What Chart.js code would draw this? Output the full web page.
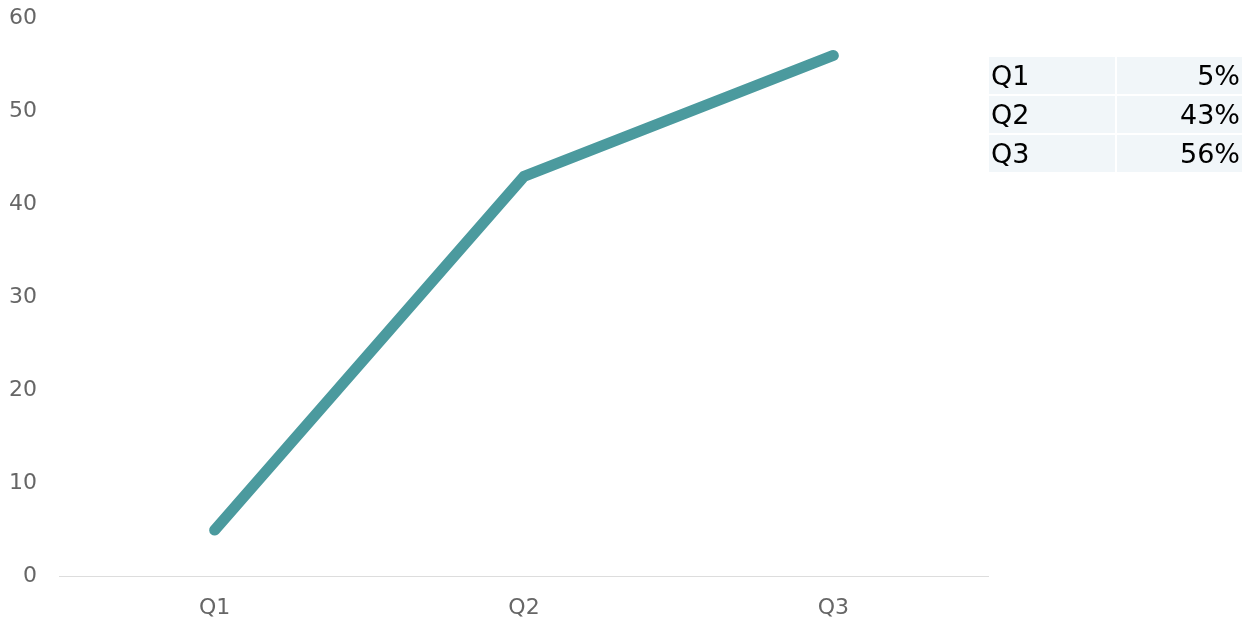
<!DOCTYPE html>
<html>
<head>
<meta charset="utf-8">
<script src="https://cdn.jsdelivr.net/npm/chart.js@4"></script>
<style>
  html, body { margin: 0; padding: 0; background: #fff; }
  #wrap { position: absolute; left: 0; top: 0; width: 990px; height: 627px; }
  #tbl {
    position: absolute; left: 987px; top: 55px; width: 257px;
    border-collapse: collapse; font-family: "DejaVu Sans", Verdana, sans-serif;
    font-size: 27px; color: #000; table-layout: fixed;
  }
  #tbl td { background: #f1f6f9; height: 37px; padding: 0 2px; border: 2px solid #fff; line-height: 1; }
  #tbl td.c { width: 122px; }
  #tbl td.v { text-align: right; }
</style>
</head>
<body>
<div id="wrap"><canvas id="chart"></canvas></div>
<table id="tbl"></table>
<script>
// data
const categories = ["Q1", "Q2", "Q3"];
const values = [5, 43, 56];
const yTicks = [0, 10, 20, 30, 40, 50, 60];

// table on the right
const tbl = document.getElementById("tbl");
categories.forEach((c, i) => {
    const tr = document.createElement("tr");
    tr.innerHTML = "<td class='c'>" + c + "</td><td class='v'>" + values[i] + "%</td>";
    tbl.appendChild(tr);
});

const ctx = document.getElementById("chart").getContext("2d");
new Chart(ctx, {
    type: "line",
    data: {
        labels: categories,
        datasets: [{
            data: values,
            borderColor: "#4b9a9e",
            borderWidth: 11,
            borderCapStyle: "round",
            borderJoinStyle: "round",
            pointRadius: 0,
            fill: false,
            tension: 0
        }]
    },
    options: {
        responsive: true,
        maintainAspectRatio: false,
        animation: false,
        layout: { padding: { top: 0, right: 2, bottom: 6, left: 4 } },
        plugins: { legend: { display: false }, tooltip: { enabled: false } },
        scales: {
            x: {
                offset: true,
                grid: { display: false, drawTicks: true, tickLength: 18 },
                border: { display: true, color: "#dddddd", width: 1 },
                ticks: { color: "#666", padding: 0, font: { family: "DejaVu Sans", size: 22 } }
            },
            y: {
                min: 0, max: 60,
                afterBuildTicks: axis => { axis.ticks = yTicks.map(v => ({ value: v })); },
                grid: { display: false, drawTicks: true, tickLength: 18 },
                border: { display: false },
                ticks: { color: "#666", padding: 5, font: { family: "DejaVu Sans", size: 22 } }
            }
        }
    }
});
</script>
</body>
</html>
